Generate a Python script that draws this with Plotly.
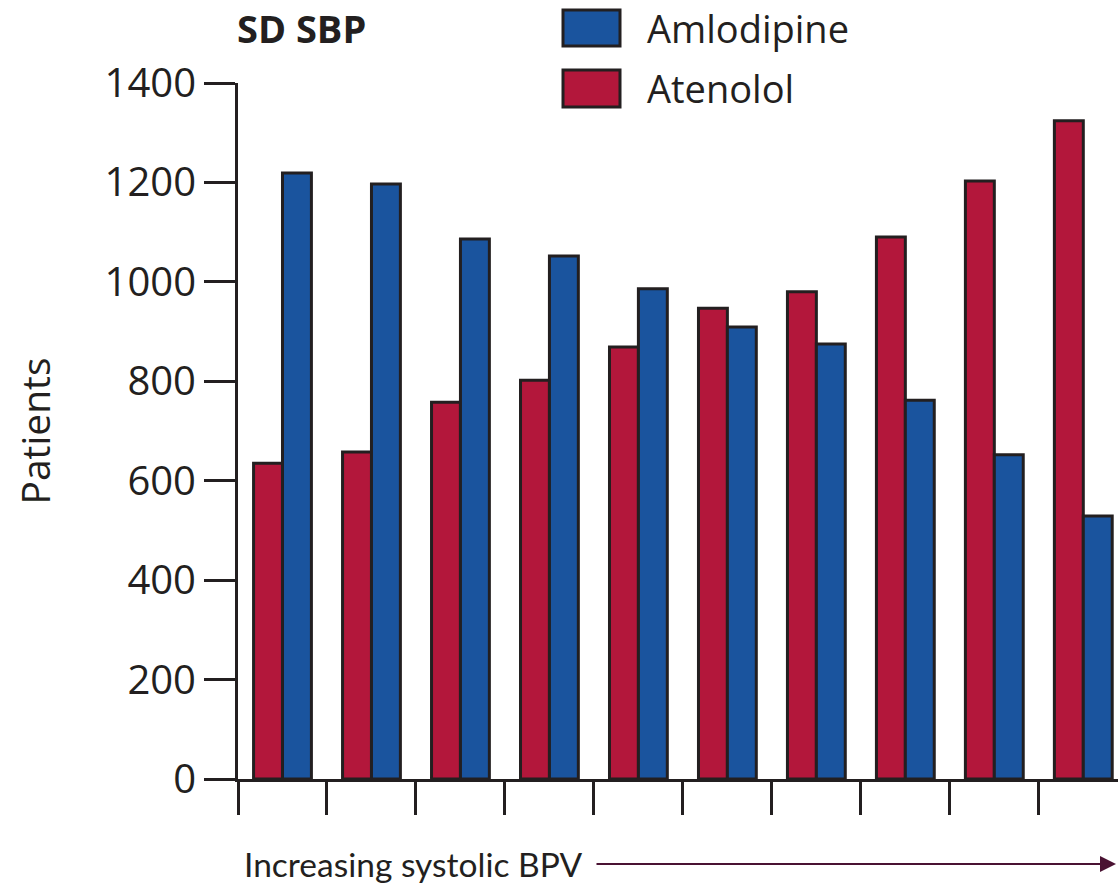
import plotly.graph_objects as go

# Patient counts per systolic BPV group (SD SBP), low to high variability
groups = list(range(10))
atenolol = [635, 658, 758, 802, 869, 947, 980, 1090, 1203, 1324]
amlodipine = [1219, 1197, 1086, 1052, 986, 909, 875, 762, 652, 529]
y_ticks = [0, 200, 400, 600, 800, 1000, 1200, 1400]
series_names = ["Atenolol", "Amlodipine"]

RED = "#b3173b"
BLUE = "#1a549e"
INK = "#231f20"
ARROW = "#4a1232"

W, H = 1118, 888
L, T, B, R = 238, 83, 109, 0
PW, PH = W - L - R, H - T - B


def px(x):
    return (x - L) / PW


def py(y):
    return (H - B - y) / PH


fig = go.Figure()
fig.add_trace(go.Bar(x=groups, y=atenolol, name=series_names[0],
                     marker=dict(color=RED, line=dict(color=INK, width=3))))
fig.add_trace(go.Bar(x=groups, y=amlodipine, name=series_names[1],
                     marker=dict(color=BLUE, line=dict(color=INK, width=3))))

# legend swatches drawn by hand so they can be large
legend_items = [("Amlodipine", BLUE, 10, 46), ("Atenolol", RED, 70, 107)]
shapes = []
annotations = []
for label, col, top, bot in legend_items:
    shapes.append(dict(type="rect", xref="paper", yref="paper",
                       x0=px(563), x1=px(620), y0=py(bot), y1=py(top),
                       fillcolor=col, line=dict(color=INK, width=3)))
    annotations.append(dict(text=label, xref="paper", yref="paper",
                            x=px(645), y=py((top + bot) / 2), xanchor="left",
                            yanchor="middle", showarrow=False,
                            font=dict(family="Open Sans", size=38, color=INK)))

annotations.append(dict(text="<b>SD SBP</b>", xref="paper", yref="paper",
                        x=px(235), y=py(28), xanchor="left", yanchor="middle",
                        showarrow=False,
                        font=dict(family="Open Sans", size=38, color=INK)))
annotations.append(dict(text="Increasing systolic BPV", xref="paper", yref="paper",
                        x=px(242), y=py(864), xanchor="left", yanchor="middle",
                        showarrow=False,
                        font=dict(family="Lato", size=33.5, color=INK)))
annotations.append(dict(text="", xref="paper", yref="paper",
                        x=px(1116), y=py(864), ax=-521, ay=0,
                        axref="pixel", ayref="pixel", showarrow=True,
                        arrowhead=2, arrowsize=1.6, arrowwidth=2,
                        arrowcolor=ARROW))

fig.update_layout(
    width=W, height=H,
    margin=dict(l=L, r=R, t=T, b=B),
    paper_bgcolor="white", plot_bgcolor="white",
    barmode="group", bargap=0.35, bargroupgap=0,
    showlegend=False,
    shapes=shapes, annotations=annotations,
    xaxis=dict(range=[-0.5, 9.39], showgrid=False, zeroline=False,
               showline=True, linecolor=INK, linewidth=3,
               tickmode="array", tickvals=[g - 0.5 for g in groups],
               ticks="outside", ticklen=33, tickwidth=3, tickcolor=INK,
               showticklabels=False),
    yaxis=dict(range=[0, 1400], showgrid=False, zeroline=False,
               showline=True, linecolor=INK, linewidth=3,
               tickmode="array", tickvals=y_ticks,
               ticktext=[str(v) for v in y_ticks],
               ticks="outside", ticklen=31, tickwidth=3, tickcolor=INK,
               tickfont=dict(family="Open Sans", size=40, color=INK),
               title=dict(text="Patients", standoff=42,
                          font=dict(family="Open Sans", size=39, color=INK))),
)

fig.write_html("out.html")
